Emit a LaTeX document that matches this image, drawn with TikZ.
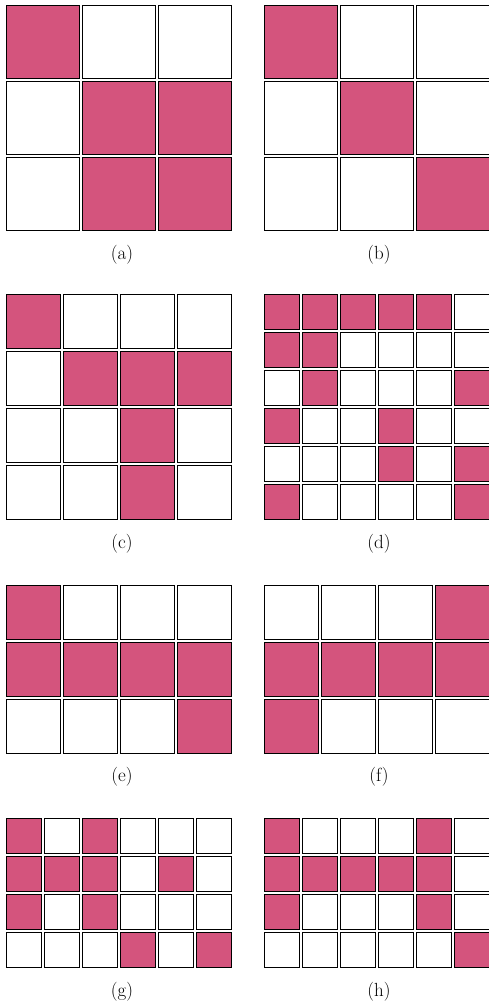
\documentclass[tikz,border=0pt]{standalone}
\definecolor{cellpink}{RGB}{212,84,125}
\tikzset{
  cell0/.style={draw=black, line width=0.8pt, fill=white},
  cell1/.style={draw=black, line width=0.8pt, fill=cellpink},
  sublabel/.style={inner sep=0pt, font=\fontsize{19}{22}\selectfont}
}
\newcommand\mypanel[4]{%
  \foreach \row [count=\r from 0] in {#4} {
    \foreach \v [count=\c from 0] in \row {
      \draw[cell\v] ({#1+\c*#3},{#2+\r*#3}) rectangle ++({#3-3},{#3-3});
    }
  }
}
\begin{document}
\begin{tikzpicture}[x=1pt,y=-1pt]
\useasboundingbox (0,0) rectangle (488,1005);
% (a)
\mypanel{6.5}{5}{76}{{1,0,0},{0,1,1},{0,1,1}}
% (b)
\mypanel{264}{5}{76}{{1,0,0},{0,1,0},{0,0,1}}
% (c)
\mypanel{6.5}{294.5}{57}{{1,0,0,0},{0,1,1,1},{0,0,1,0},{0,0,1,0}}
% (d)
\mypanel{264}{294}{38}{{1,1,1,1,1,0},{1,1,0,0,0,0},{0,1,0,0,0,1},{1,0,0,1,0,0},{0,0,0,1,0,1},{1,0,0,0,0,1}}
% (e)
\mypanel{6.5}{585}{57}{{1,0,0,0},{1,1,1,1},{0,0,0,1}}
% (f)
\mypanel{264}{585}{57}{{0,0,0,1},{1,1,1,1},{1,0,0,0}}
% (g)
\mypanel{6}{818}{38}{{1,0,1,0,0,0},{1,1,1,0,1,0},{1,0,1,0,0,0},{0,0,0,1,0,1}}
% (h)
\mypanel{264}{818}{38}{{1,0,0,0,1,0},{1,1,1,1,1,0},{1,0,0,0,1,0},{0,0,0,0,0,1}}
% labels
\node[sublabel] (la) at (122,255) {(a)};
\node[sublabel] (lb) at (379,255) {(b)};
\node[sublabel] (lc) at (122,544) {(c)};
\node[sublabel] (ld) at (379,544) {(d)};
\node[sublabel] (le) at (122,777) {(e)};
\node[sublabel] (lf) at (379,777) {(f)};
\node[sublabel] (lg) at (122,992) {(g)};
\node[sublabel] (lh) at (379,992) {(h)};
\end{tikzpicture}
\end{document}
